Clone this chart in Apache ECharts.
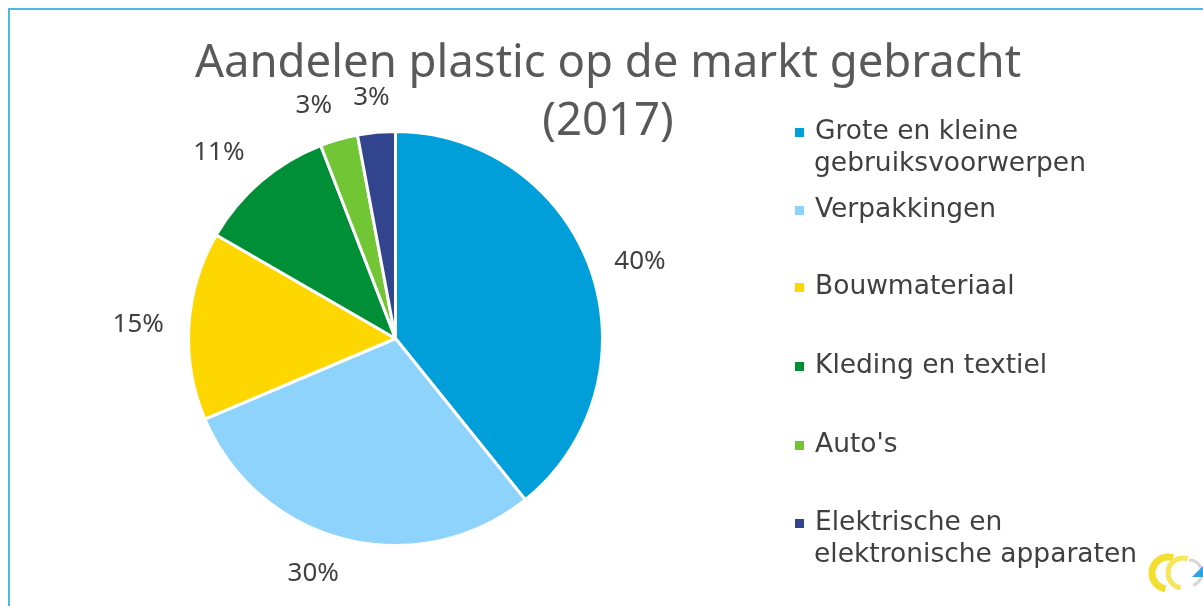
<!DOCTYPE html>
<html>
<head>
<meta charset="utf-8">
<script src="https://cdn.jsdelivr.net/npm/echarts@6/dist/echarts.min.js"></script>
<style>
  html, body { margin: 0; padding: 0; background: #fff; }
  #main { width: 1203px; height: 606px; }
</style>
</head>
<body>
<div id="main"></div>
<script>
// categorieen en aandelen (%)
var categories = [
    'Grote en kleine\ngebruiksvoorwerpen',
    'Verpakkingen',
    'Bouwmateriaal',
    'Kleding en textiel',
    "Auto's",
    'Elektrische en\nelektronische apparaten'
];
var shares = [40, 30, 15, 11, 3, 3];
var colors = ['#009FDA', '#8ED3FB', '#FFD700', '#008F36', '#72C535', '#33448F'];

var labelFont = 'Noto Sans';
var legendFont = 'DejaVu Sans';
var pieCenter = [395.5, 338.5];
var labelRadius = 232;
var chart = echarts.init(document.getElementById('main'));

var total = 0;
for (var k = 0; k < shares.length; k++) total += shares[k];

var pieData = [];
for (var i = 0; i < categories.length; i++) {
    pieData.push({ name: categories[i], value: shares[i], itemStyle: { color: colors[i] } });
}

function clamp01(v) { return Math.max(0, Math.min(1, v)); }

// een legenda per item, zodat de afstand gelijk blijft
var legendTops = [107, 185, 262, 341, 420, 498];
var legends = [];
var extraLines = [];
for (var j = 0; j < categories.length; j++) {
    legends.push({
        orient: 'vertical',
        left: 788,
        top: legendTops[j],
        data: [categories[j]],
        icon: 'rect',
        itemWidth: 11,
        itemHeight: 11,
        itemGap: 0,
        selectedMode: false,
        formatter: function (name) { return name.split('\n')[0]; },
        textStyle: {
            fontFamily: legendFont,
            fontSize: 26.5,
            color: '#404040',
            lineHeight: 33,
            padding: [0, 0, 8, 5]
        }
    });
    var parts = categories[j].split('\n');
    if (parts.length > 1) {
        // tweede regel van het legendalabel
        extraLines.push({
            type: 'text',
            left: 814,
            top: legendTops[j] + 44,
            silent: true,
            style: {
                text: parts[1],
                fontFamily: legendFont,
                fontSize: 26.5,
                fill: '#404040'
            }
        });
    }
}

// logo rechtsonder (grof)
var logo = [
    { type: 'arc', shape: { cx: 1168, cy: 573, r: 16, startAngle: Math.PI * 0.55, endAngle: Math.PI * 1.6 },
      style: { stroke: '#F2DE2E', lineWidth: 7, fill: 'none' }, silent: true },
    { type: 'arc', shape: { cx: 1183, cy: 573, r: 15, startAngle: Math.PI * 0.55, endAngle: Math.PI * 1.6 },
      style: { stroke: '#F5E65A', lineWidth: 5, fill: 'none' }, silent: true },
    { type: 'arc', shape: { cx: 1189, cy: 573, r: 13, startAngle: Math.PI * 1.5, endAngle: Math.PI * 0.4 },
      style: { stroke: '#D5D5D5', lineWidth: 3, fill: 'none' }, silent: true },
    { type: 'polygon', shape: { points: [[1192, 577], [1203, 566], [1203, 577]] },
      style: { fill: '#2FA3E0' }, silent: true }
];

var option = {
    animation: false,
    backgroundColor: '#fff',
    title: {
        text: 'Aandelen plastic op de markt gebracht\n(2017)',
        left: 603,
        top: 30,
        textAlign: 'center',
        textStyle: {
            fontFamily: labelFont,
            fontSize: 45.5,
            fontWeight: 'normal',
            color: '#595959',
            lineHeight: 58
        }
    },
    legend: legends,
    graphic: [{
        type: 'rect',
        shape: { x: 9, y: 9, width: 1400, height: 800 },
        style: { fill: 'none', stroke: '#4FB8E3', lineWidth: 2 },
        silent: true
    }].concat(extraLines).concat(logo),
    series: [{
        type: 'pie',
        center: pieCenter,
        radius: 207,
        startAngle: 90,
        clockwise: true,
        avoidLabelOverlap: false,
        data: pieData,
        itemStyle: { borderColor: '#fff', borderWidth: 3 },
        label: {
            show: true,
            position: 'outside',
            formatter: '{c}%',
            fontFamily: labelFont,
            fontSize: 26,
            color: '#404040'
        },
        labelLine: { show: false },
        // label buiten de rand, zoals in Excel (outside end)
        labelLayout: function (params) {
            var before = 0;
            for (var n = 0; n < params.dataIndex; n++) before += shares[n];
            var mid = (before + shares[params.dataIndex] / 2) / total * Math.PI * 2;
            var ux = Math.sin(mid), uy = -Math.cos(mid);
            var hw = params.labelRect.width / 2, hh = 10;
            var sx = (ux < 0 ? -1 : 1) * hw * clamp01((Math.abs(ux) - 0.07) / 0.15);
            var sy = (uy < 0 ? -1 : 1) * hh * clamp01((Math.abs(uy) - 0.35) / 0.4);
            return {
                x: pieCenter[0] + ux * labelRadius + sx,
                y: pieCenter[1] + uy * labelRadius + sy,
                align: 'center',
                verticalAlign: 'middle'
            };
        }
    }]
};
chart.setOption(option);
</script>
</body>
</html>
